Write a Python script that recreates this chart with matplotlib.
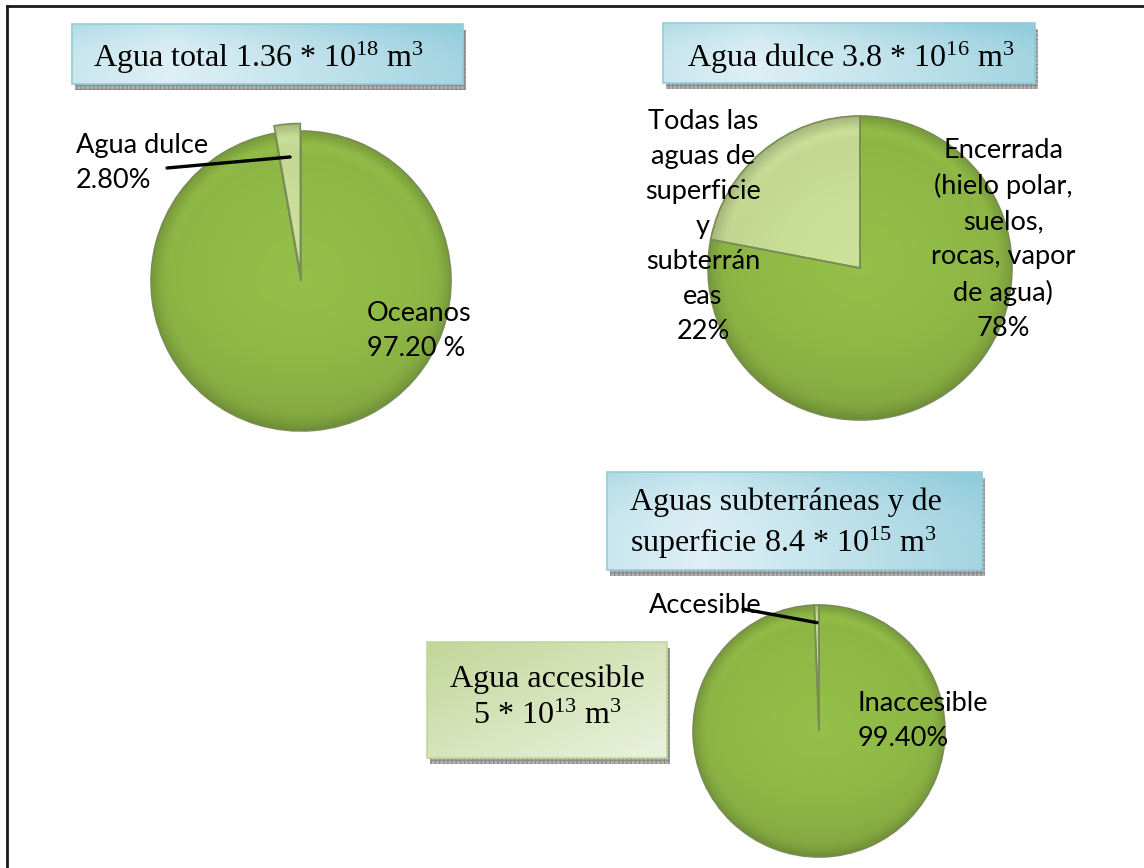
import numpy as np
import matplotlib.pyplot as plt
from matplotlib.patches import Rectangle, Wedge

plt.rcParams['mathtext.default'] = 'regular'

W, H = 1144, 868

# pie data
total_names = ['Agua dulce\n2.80%', 'Oceanos\n97.20 %']
total_values = [2.8, 97.2]
dulce_names = ['Todas las\naguas de\nsuperficie\ny\nsubterrán\neas\n22%',
               'Encerrada\n(hielo polar,\nsuelos,\nrocas, vapor\nde agua)\n78%']
dulce_values = [22, 78]
sub_names = ['Accesible', 'Inaccesible\n99.40%']
sub_values = [0.6, 99.4]

# box titles
titles = [r'Agua total 1.36 * 10$^{18}$ m$^{3}$',
          r'Agua dulce 3.8 * 10$^{16}$ m$^{3}$',
          'Aguas subterráneas y de\n' + r'superficie 8.4 * 10$^{15}$ m$^{3}$',
          'Agua accesible\n' + r'5 * 10$^{13}$ m$^{3}$']

GREEN = (0.55, 0.71, 0.27)
LIGHT = (0.76, 0.84, 0.57)
PAD = 1.12


def fx(x):
    return x / W


def fy(y):
    return 1 - y / H


fig = plt.figure(figsize=(W / 100, H / 100), dpi=100)

# background: frame and title boxes
bg = fig.add_axes([0, 0, 1, 1])
bg.set_xlim(0, W)
bg.set_ylim(H, 0)
bg.axis('off')
bg.plot([7, 7], [6, H], color='#1a1a1a', lw=2)
bg.plot([7, W], [6, 6], color='#1a1a1a', lw=2)


def box(x0, y0, x1, y1, c_light, c_dark, diag=False):
    sh = Rectangle((x0 + 3, y0 + 6), x1 - x0, y1 - y0, facecolor='#b4b4b4',
                   edgecolor='#8c8c8c', hatch='++++', lw=0, zorder=1)
    bg.add_patch(sh)
    n = 200
    u = np.linspace(0, 1, n)
    U, V = np.meshgrid(u, u)
    if diag:
        t = np.clip((U + V) / 2, 0, 1)
        t = 1 - t
    else:
        t = np.clip(0.75 * np.abs(U - 0.25) / 0.75 + 0.35 * (1 - V) ** 3, 0, 1)
    rgb = np.array(c_light)[None, None, :] * (1 - t[..., None]) + \
        np.array(c_dark)[None, None, :] * t[..., None]
    bg.imshow(rgb, extent=(x0, x1, y1, y0), origin='upper', aspect='auto',
              zorder=2, interpolation='bilinear')
    bg.add_patch(Rectangle((x0, y0), x1 - x0, y1 - y0, fill=False,
                           edgecolor=c_dark, lw=1.2, zorder=3))


blue_l = (0.87, 0.94, 0.96)
blue_d = (0.57, 0.80, 0.86)
box(72, 24, 463, 84, blue_l, blue_d)
box(663, 23, 1035, 83, blue_l, blue_d)
box(607, 472, 982, 570, blue_l, blue_d)
box(427, 642, 667, 758, (0.92, 0.95, 0.87), (0.76, 0.84, 0.60), diag=True)

bg.set_xlim(0, W)
bg.set_ylim(H, 0)

serif = dict(fontfamily='Liberation Serif', fontsize=23, color='black', zorder=4)
bg.text(93, 67, titles[0], ha='left', va='baseline', **serif)
bg.text(687, 67, titles[1], ha='left', va='baseline', **serif)
bg.text(630, 552, titles[2], ha='left', va='baseline', linespacing=1.3, **serif)
bg.text(547, 724, titles[3], ha='center', va='baseline', linespacing=1.35, **serif)


def shade(ax, wedges, colors):
    n = 500
    xs = np.linspace(-PAD, PAD, n)
    X, Y = np.meshgrid(xs, xs[::-1])
    for w, c in zip(wedges, colors):
        cx, cy = w.center
        dx, dy = (X - cx) / w.r, (Y - cy) / w.r
        rr = np.hypot(dx, dy)
        f = 1.05 - 0.07 * rr ** 2
        f -= 0.14 * np.clip((rr - 0.86) / 0.14, 0, 1) ** 2
        f += 0.06 * np.exp(-((rr - 0.9) / 0.04) ** 2) * np.clip(dy, 0, 1)
        f -= 0.07 * np.clip(-dy, 0, 1) ** 2
        rgb = np.clip(np.array(c)[None, None, :] * f[..., None], 0, 1)
        im = ax.imshow(rgb, extent=(-PAD, PAD, -PAD, PAD), zorder=2,
                       interpolation='bilinear')
        im.set_clip_path(w)
        ax.add_patch(Wedge(w.center, w.r, w.theta1, w.theta2, fill=False,
                           edgecolor='#7a8c55', lw=1.2, zorder=3))


def pie_axes(cx, cy, r, values, colors, explode):
    ax = fig.add_axes([fx(cx - r * PAD), fy(cy + r * PAD),
                       2 * r * PAD / W, 2 * r * PAD / H])
    wedges, _ = ax.pie(values, colors=colors, startangle=90, counterclock=True,
                       explode=explode, radius=1)
    shade(ax, wedges, colors)
    ax.set_xlim(-PAD, PAD)
    ax.set_ylim(-PAD, PAD)
    ax.set_aspect('equal')
    ax.axis('off')
    return ax, wedges


def leader(ax, w, frac, x, y):
    ang = np.deg2rad((w.theta1 + w.theta2) / 2)
    cx, cy = w.center
    p = (cx + frac * w.r * np.cos(ang), cy + frac * w.r * np.sin(ang))
    ax.annotate('', xy=p, xycoords='data', xytext=(fx(x), fy(y)),
                textcoords='figure fraction', annotation_clip=False, zorder=10,
                arrowprops=dict(arrowstyle='-', lw=2.4, color='black',
                                shrinkA=0, shrinkB=0))


ax1, w1 = pie_axes(301, 281, 150, total_values, [LIGHT, GREEN], [0.05, 0])
leader(ax1, w1[0], 0.78, 167, 168)
ax2, w2 = pie_axes(860, 268, 152, dulce_values, [LIGHT, GREEN], [0, 0])
ax3, w3 = pie_axes(819, 731, 126, sub_values, [LIGHT, GREEN], [0, 0])
leader(ax3, w3[0], 0.86, 743, 609)

sans = dict(fontfamily='Lato', fontsize=19.5, color='black', linespacing=1.5)
fig.text(fx(76), fy(188), total_names[0], ha='left', va='baseline', **sans)
fig.text(fx(367), fy(356), total_names[1], ha='left', va='baseline', **sans)
fig.text(fx(703), fy(339), dulce_names[0], ha='center', va='baseline',
         multialignment='center', **sans)
fig.text(fx(1003), fy(336), dulce_names[1], ha='center', va='baseline',
         multialignment='center', **sans)
fig.text(fx(649), fy(613), sub_names[0], ha='left', va='baseline', **sans)
fig.text(fx(858), fy(746), sub_names[1], ha='left', va='baseline', **sans)

fig.savefig('out.png', dpi=100, facecolor='white')
